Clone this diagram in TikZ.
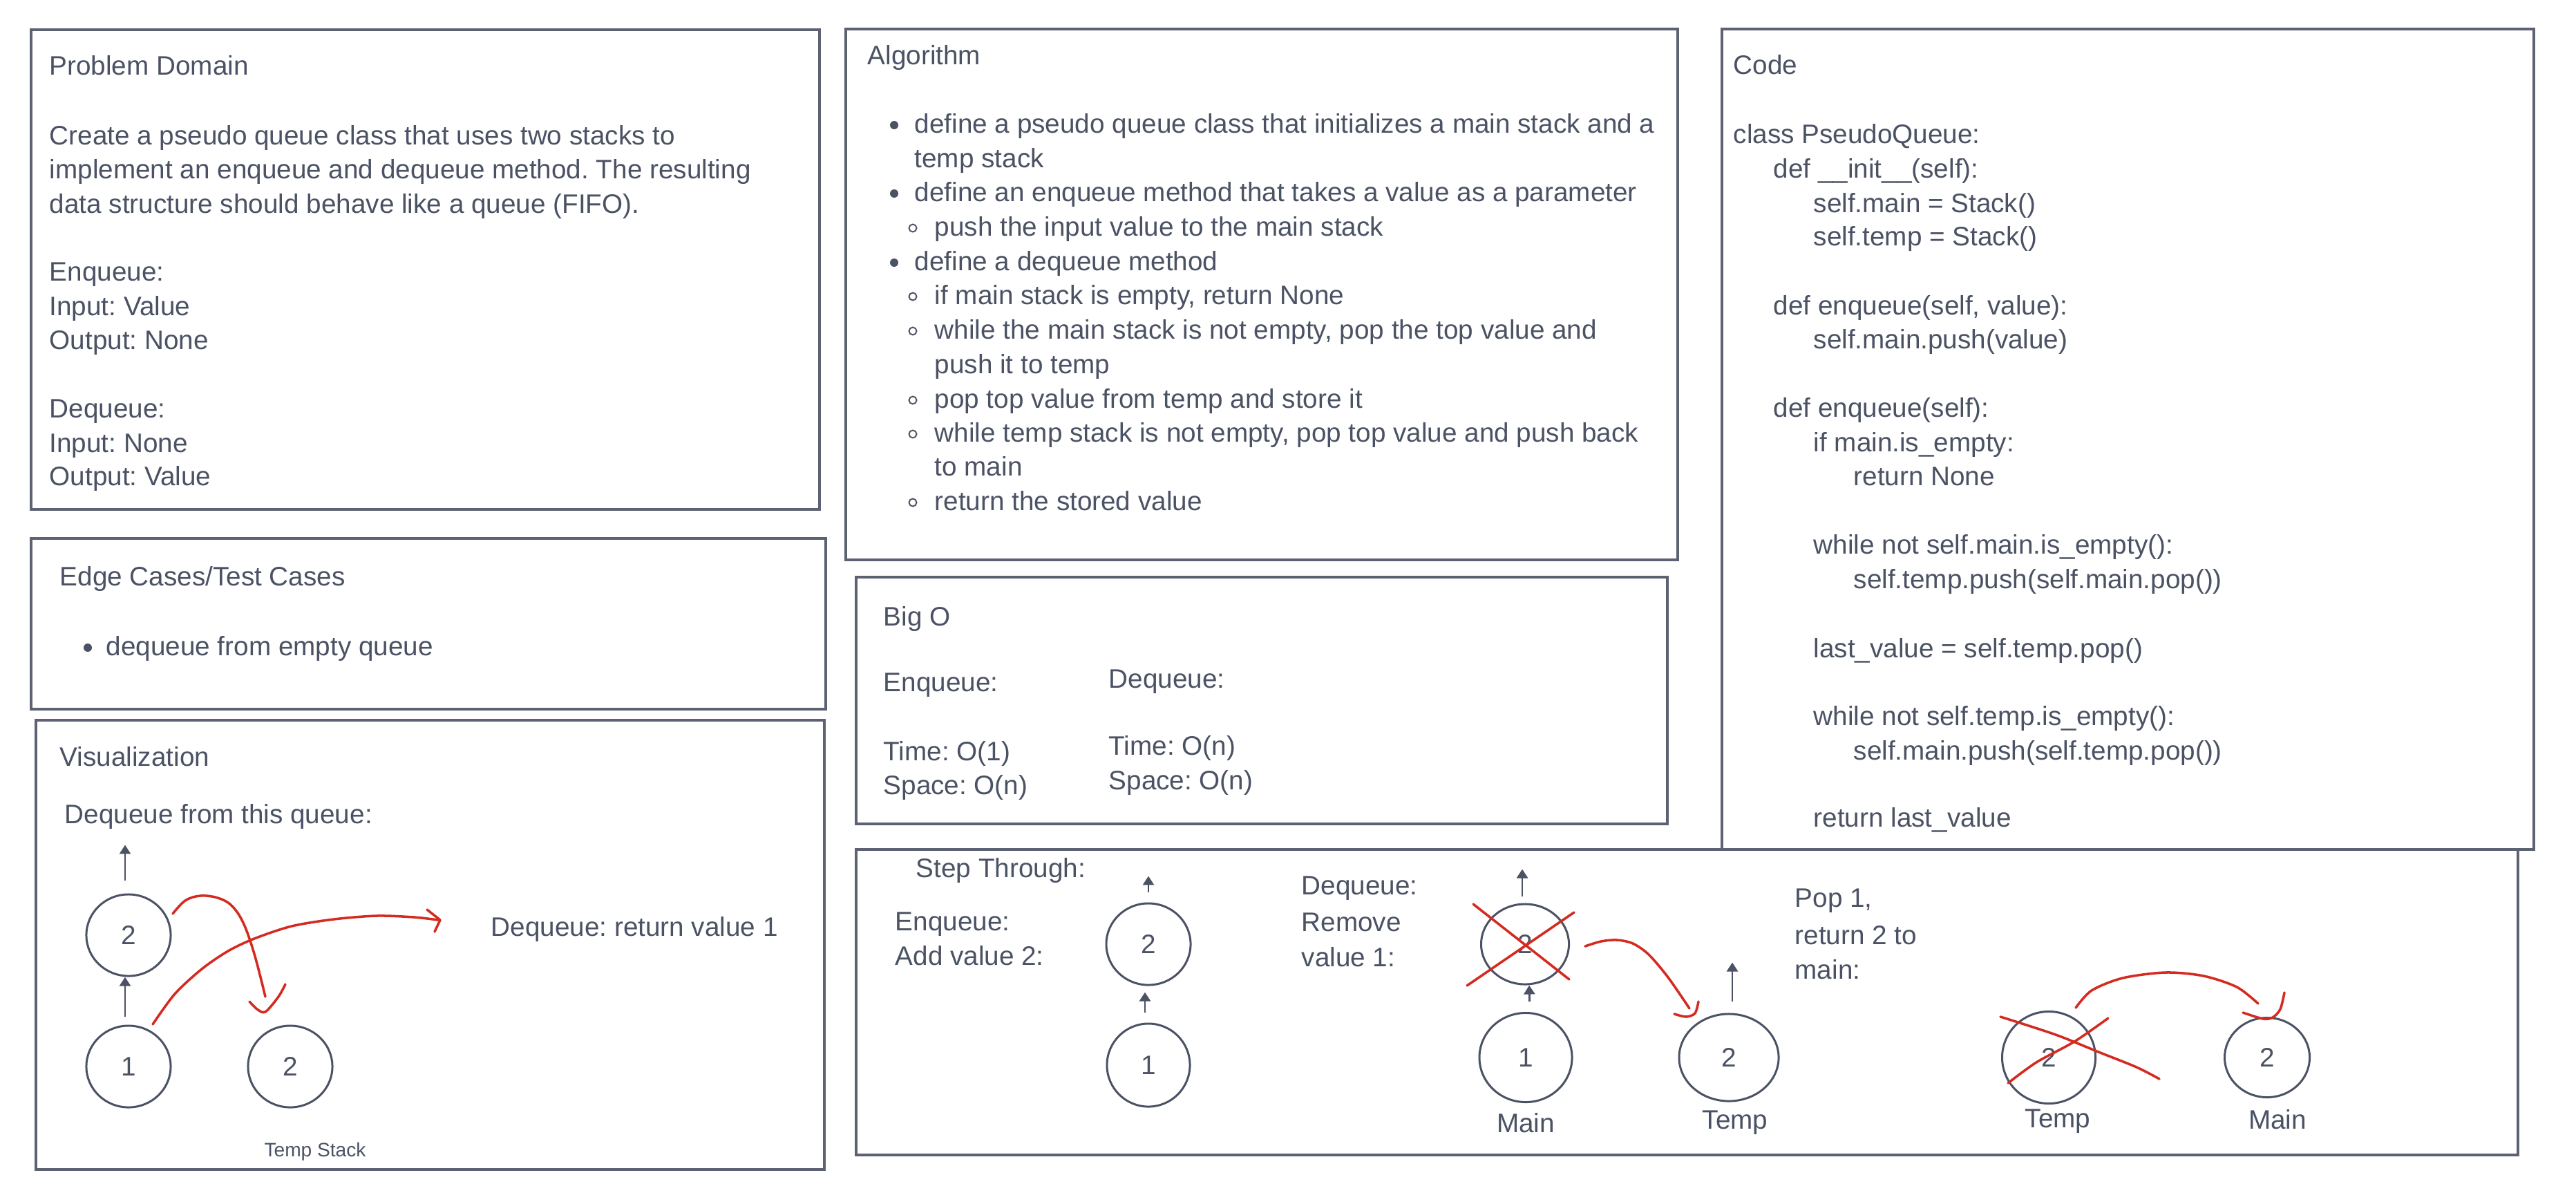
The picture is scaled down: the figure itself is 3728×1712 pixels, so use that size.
\documentclass[tikz,border=0pt]{standalone}
\usepackage{fontspec}
\setmainfont{Liberation Sans}
\usetikzlibrary{arrows.meta,shapes.geometric}
\definecolor{ink}{RGB}{75,82,100}
\definecolor{frame}{RGB}{92,98,114}
\definecolor{penred}{RGB}{212,42,31}
\newcommand{\bodyfont}{\fontsize{11}{13}\selectfont}
\frenchspacing
\tikzset{
  every node/.style={text=ink, font=\bodyfont},
  panel/.style={draw=frame, line width=1pt},
  txt/.style={anchor=base west, inner sep=0pt},
  lbl/.style={anchor=base, inner sep=0pt},
  ball/.style={ellipse, draw=ink, line width=0.85pt, inner sep=0pt, minimum width=1.22cm, minimum height=1.18cm},
  push/.style={draw=ink, line width=0.8pt, -{Triangle[length=1.3mm,width=1.6mm]}},
  pen/.style={draw=penred, line width=1pt, line cap=round, line join=round},
}

\begin{document}
\begin{tikzpicture}[x=0.01cm, y=-0.01cm]
  \useasboundingbox (0,0) rectangle (3728,1712);
  \fill[white] (0,0) rectangle (3728,1712);

  % panels
  \draw[panel] (45,43) rectangle (1186,737);
  \draw[panel] (45,779) rectangle (1195,1026);
  \draw[panel] (52,1042) rectangle (1193,1692);
  \draw[panel] (1224,42) rectangle (2428,810);
  \draw[panel] (1239,835) rectangle (2413,1192);
  \draw[panel] (2492,42) rectangle (3667,1229);
  \draw[panel] (1239,1229) rectangle (3644,1671);

  % problem domain
  \foreach \y/\t [count=\i] in {108/Problem Domain,
      209/Create a pseudo queue class that uses two stacks to,
      258/implement an enqueue and dequeue method. The resulting,
      308/data structure should behave like a queue (FIFO).,
      406/Enqueue:, 456/Input: Value, 505/Output: None,
      604/Dequeue:, 654/Input: None, 702/Output: Value}
    \node[txt] (prob\i) at (71,\y) {\t};

  % edge cases
  \node[txt] (edge) at (86,847) {Edge Cases/Test Cases};
  \fill[ink] (127,937) circle[radius=0.6mm];
  \node[txt] (edge1) at (153,948) {dequeue from empty queue};

  % algorithm
  \node[txt] (alg) at (1255,93) {Algorithm};
  \foreach \y/\t [count=\i] in {192/define a pseudo queue class that initializes a main stack and a,
      242/temp stack,
      291/define an enqueue method that takes a value as a parameter,
      391/define a dequeue method}
    \node[txt] (alga\i) at (1323,\y) {\t};
  \foreach \y in {181,280,380}
    \fill[ink] (1294,\y) circle[radius=0.6mm];
  \foreach \y/\t [count=\i] in {341/push the input value to the main stack,
      440/{if main stack is empty, return None},
      490/{while the main stack is not empty, pop the top value and},
      540/push it to temp,
      590/pop top value from temp and store it,
      639/{while temp stack is not empty, pop top value and push back},
      688/to main,
      738/return the stored value}
    \node[txt] (algb\i) at (1352,\y) {\t};
  \foreach \y in {330,429,479,579,628,727}
    \draw[ink, line width=0.55pt] (1321,\y) circle[radius=0.55mm];

  % big o
  \node[txt] (bigo) at (1278,905) {Big O};
  \node[txt] (bigo1) at (1278,1000) {Enqueue:};
  \node[txt] (bigo2) at (1278,1100) {Time: O(1)};
  \node[txt] (bigo3) at (1278,1149) {Space: O(n)};
  \node[txt] (bigo4) at (1604,995) {Dequeue:};
  \node[txt] (bigo5) at (1604,1092) {Time: O(n)};
  \node[txt] (bigo6) at (1604,1142) {Space: O(n)};

  % code
  \foreach \x/\y/\t [count=\i] in {2508/107/Code,
      2508/207/class PseudoQueue:,
      2566/257/def \_\_init\_\_(self):,
      2624/307/self.main = Stack(),
      2624/355/self.temp = Stack(),
      2566/455/{def enqueue(self, value):},
      2624/504/self.main.push(value),
      2566/603/def enqueue(self):,
      2624/653/if main.is\_empty:,
      2682/702/return None,
      2624/801/while not self.main.is\_empty():,
      2682/851/self.temp.push(self.main.pop()),
      2624/951/last\_value = self.temp.pop(),
      2624/1049/while not self.temp.is\_empty():,
      2682/1099/self.main.push(self.temp.pop()),
      2624/1196/return last\_value}
    \node[txt] (code\i) at (\x,\y) {\t};

  % visualization
  \node[txt] (vis) at (86,1108) {Visualization};
  \node[txt] (vis1) at (93,1191) {Dequeue from this queue:};
  \node[txt] (vis2) at (710,1354) {Dequeue: return value 1};
  \node[lbl, font=\fontsize{8}{10}\selectfont] (vis3) at (456,1673) {Temp Stack};
  \node[ball] (vq2) at (186,1353) {2};
  \node[ball] (vq1) at (186,1543) {1};
  \node[ball] (vtmp) at (420,1543) {2};
  \draw[push] ([shift={(-5,-18)}]vq2.north) -- ++(0,-52);
  \draw[push, shorten <=1.1mm] ([xshift=-0.5mm]vq1.north) -- ([xshift=-0.5mm]vq2.south);
  \draw[pen] plot[smooth, tension=0.6] coordinates {(250,1322) (268,1303) (290,1296) (315,1299) (335,1310) (352,1335) (368,1380) (384,1442)};
  \draw[pen] plot[smooth] coordinates {(361,1449) (372,1460) (384,1464) (403,1442) (413,1424)};
  \draw[pen] plot[smooth] coordinates {(221,1482) (253,1438) (292,1402) (330,1376) (368,1358) (422,1340) (483,1330) (545,1325) (599,1327) (634,1331)};
  \draw[pen] (618,1316) -- (637,1331) -- (629,1348);

  % step through
  \node[txt] (st) at (1325,1269) {Step Through:};
  \node[txt] (st1) at (1295,1346) {Enqueue:};
  \node[txt] (st2) at (1295,1396) {Add value 2:};
  \node[txt] (st3) at (1883,1294) {Dequeue:};
  \node[txt] (st4) at (1883,1347) {Remove};
  \node[txt] (st5) at (1883,1398) {value 1:};
  \node[txt] (st6) at (2597,1312) {Pop 1,};
  \node[txt] (st7) at (2597,1366) {return 2 to};
  \node[txt] (st8) at (2597,1416) {main:};

  \node[ball] (e2) at (1662,1366) {2};
  \node[ball, minimum height=1.2cm, minimum width=1.2cm] (e1) at (1662,1541) {1};
  \draw[push] ([yshift=1.4mm]e2.north) -- ++(0,-24);
  \draw[push, shorten <=1.4mm, shorten >=0.9mm] ([xshift=-0.5mm]e1.north) -- ([xshift=-0.5mm]e2.south);

  \node[ball, minimum width=1.27cm, minimum height=1.16cm] (d2) at (2207,1366) {2};
  \node[ball, minimum width=1.34cm, minimum height=1.29cm] (d1) at (2208,1530) {1};
  \node[ball, minimum width=1.44cm, minimum height=1.26cm] (t2) at (2502,1530) {2};
  \node[lbl] (d1lbl) at (2208,1638) {Main};
  \node[lbl] (t2lbl) at (2511,1633) {Temp};
  \draw[push] ([shift={(-4,-9)}]d2.north) -- ++(0,-40);
  \draw[push, shorten <=1.5mm] ([xshift=0.6mm]d1.north) -- ([xshift=0.6mm]d2.south);
  \draw[push] ([shift={(5,-16)}]t2.north) -- ++(0,-57);
  \draw[pen] (2132,1308) -- (2271,1417);
  \draw[pen] (2278,1320) -- (2123,1426);
  \draw[pen] plot[smooth] coordinates {(2294,1369) (2317,1362) (2340,1360) (2363,1365) (2386,1381) (2414,1414) (2445,1459)};
  \draw[pen] plot[smooth] coordinates {(2423,1467) (2440,1471) (2453,1466) (2458,1449)};

  \node[ball, minimum width=1.35cm, minimum height=1.33cm] (p2) at (2965,1530) {2};
  \node[ball, minimum width=1.23cm, minimum height=1.15cm] (m2) at (3281,1530) {2};
  \node[lbl] (p2lbl) at (2978,1631) {Temp};
  \node[lbl] (m2lbl) at (3296,1633) {Main};
  \draw[pen] plot[smooth] coordinates {(2895,1471) (2975,1497) (3037,1522) (3092,1544) (3125,1561)};
  \draw[pen] plot[smooth] coordinates {(3051,1473) (3002,1507) (2947,1537) (2906,1567)};
  \draw[pen] plot[smooth] coordinates {(3004,1458) (3027,1433) (3072,1415) (3134,1407) (3189,1412) (3237,1428) (3268,1452)};
  \draw[pen] plot[smooth] coordinates {(3246,1465) (3275,1474) (3289,1472) (3300,1460) (3306,1436)};
\end{tikzpicture}
\end{document}
